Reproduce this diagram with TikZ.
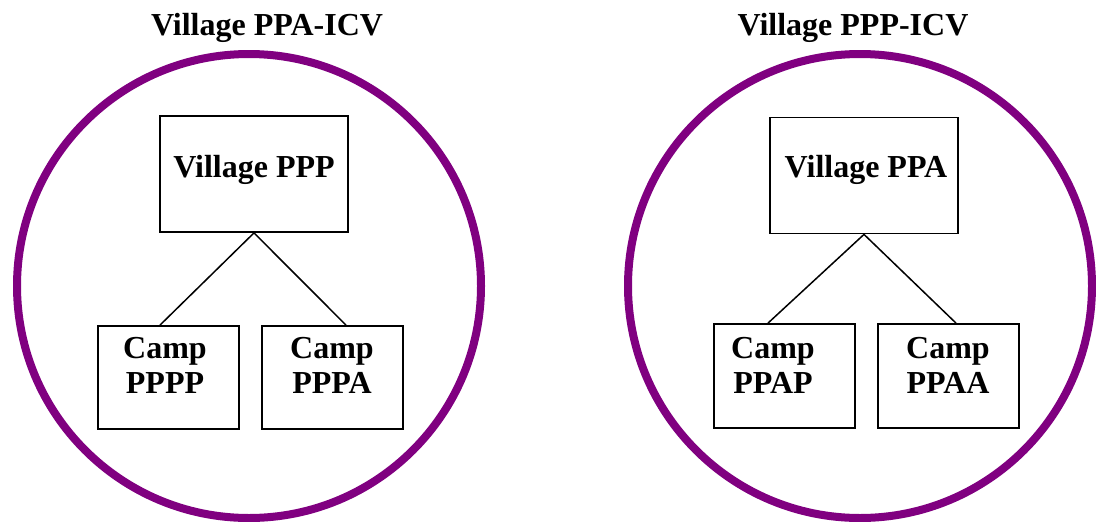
\documentclass[tikz,border=0pt]{standalone}
\usepackage{fontspec}
\setmainfont{Liberation Serif}
\definecolor{ringpurple}{RGB}{128,0,128}
\begin{document}
\begin{tikzpicture}[x=1pt,y=-1pt,
  ring/.style={circle, draw=ringpurple, line width=8pt, minimum size=464pt, inner sep=0pt},
  box/.style={rectangle, draw=black, line width=1.8pt, inner sep=0pt},
  topbox/.style={box, minimum width=188pt, minimum height=116pt},
  campbox/.style={box, minimum width=141pt, minimum height=103pt},
  lbl/.style={font=\bfseries\fontsize{32}{35}\selectfont, inner sep=0pt, align=center},
  link/.style={line width=1.5pt}]
\useasboundingbox (0,0) rectangle (1096,522);
% rings
\node[ring] (ringL) at (249,286) {};
\node[ring] (ringR) at (860,286) {};
% titles
\node[lbl, anchor=base] (titleL) at (267,35) {Village PPA-ICV};
\node[lbl, anchor=base] (titleR) at (853,35) {Village PPP-ICV};
% left group
\node[topbox] (vL) at (254,174) {};
\node[campbox] (cL1) at (168.5,377.5) {};
\node[campbox] (cL2) at (332.5,377.5) {};
\node[lbl, anchor=base] (vLt) at (254,177) {Village PPP};
\node[lbl, anchor=north] (cL1t) at (165,337) {Camp\\PPPP};
\node[lbl, anchor=north] (cL2t) at (332,337) {Camp\\PPPA};
\draw[link] (vL.south) -- ([xshift=-8.5pt]cL1.north);
\draw[link] (vL.south) -- ([xshift=13.5pt]cL2.north);
% right group
\node[topbox] (vR) at (864,175.5) {};
\node[campbox, minimum height=104pt] (cR1) at (784.5,376) {};
\node[campbox, minimum height=104pt] (cR2) at (948.5,376) {};
\node[lbl, anchor=base] (vRt) at (866,177) {Village PPA};
\node[lbl, anchor=north] (cR1t) at (773,337) {Camp\\PPAP};
\node[lbl, anchor=north] (cR2t) at (948,337) {Camp\\PPAA};
\draw[link] (vR.south) -- ([xshift=-16.5pt]cR1.north);
\draw[link] (vR.south) -- ([xshift=7.5pt]cR2.north);
\end{tikzpicture}
\end{document}
